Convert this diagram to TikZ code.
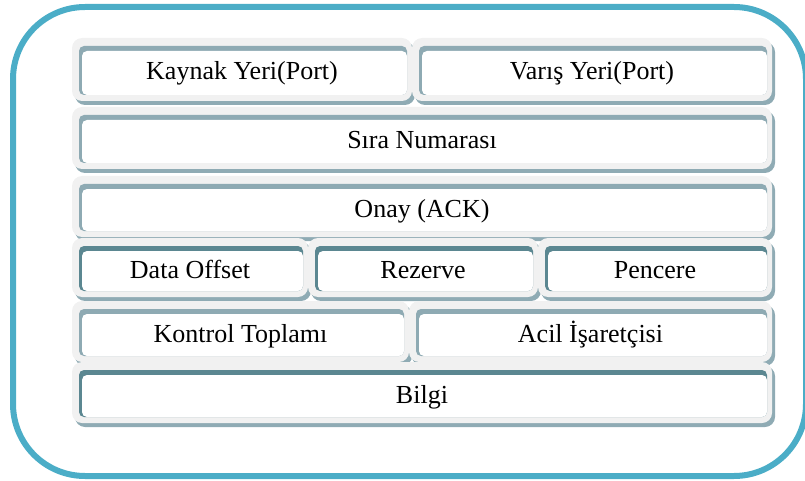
\documentclass[tikz,border=0pt]{standalone}
\usepackage{fontspec}
\setmainfont{Liberation Serif}

\definecolor{outerteal}{HTML}{4BADC7}
\definecolor{rimgray}{HTML}{F1F1F1}
\definecolor{shadowblue}{HTML}{8FABB4}
\definecolor{bevellight}{HTML}{8EAAB3}
\definecolor{beveldark}{HTML}{5B8791}

\tikzset{
  fieldtext/.style={inner sep=0pt, anchor=base, font=\fontsize{26}{30}\selectfont}
}

% One header field: name, x1, y1, x2, y2, bevel colour, label
\newcommand\fieldbox[7]{%
  \fill[shadowblue, rounded corners=10pt] (#2+3,#3+4) rectangle (#4+3,#5+4);
  \fill[rimgray, rounded corners=10pt] (#2,#3) rectangle (#4,#5);
  \fill[#6, rounded corners=5pt] (#2+7,#3+8) rectangle (#4-5,#5-6);
  \fill[white, rounded corners=5pt] (#2+10,#3+13) rectangle (#4-5,#5-6);
  \node[fieldtext] (#1) at ({(#2+#4)/2},{(#3+#5)/2+10.5}) {#7};
}

\begin{document}
\begin{tikzpicture}[x=1pt,y=-1pt]
  \useasboundingbox (0,0) rectangle (805,481);
  \begin{scope}
    \clip (0,0) rectangle (805,481);
    \draw[outerteal, line width=6pt, rounded corners=72pt] (13,7) rectangle (806,476);
  \end{scope}

  % row 1: ports
  \fieldbox{src}{72}{38}{412}{101}{bevellight}{Kaynak Yeri(Port)}
  \fieldbox{dst}{412}{38}{772}{101}{bevellight}{Varış Yeri(Port)}
  % row 2: sequence number
  \fieldbox{seq}{72}{107}{772}{169}{bevellight}{Sıra Numarası}
  % row 3: acknowledgement
  \fieldbox{ack}{72}{176}{772}{237}{bevellight}{Onay (ACK)}
  % row 4: offset, reserved, window
  \fieldbox{off}{72}{238}{308}{297}{beveldark}{Data Offset}
  \fieldbox{res}{308}{238}{538}{297}{beveldark}{Rezerve}
  \fieldbox{win}{538}{238}{772}{297}{beveldark}{Pencere}
  % row 5: checksum, urgent pointer
  \fieldbox{chk}{72}{301}{409}{362}{bevellight}{Kontrol Toplamı}
  \fieldbox{urg}{409}{301}{772}{362}{bevellight}{Acil İşaretçisi}
  % row 6: data
  \fieldbox{data}{72}{362}{772}{423}{beveldark}{Bilgi}
\end{tikzpicture}
\end{document}
